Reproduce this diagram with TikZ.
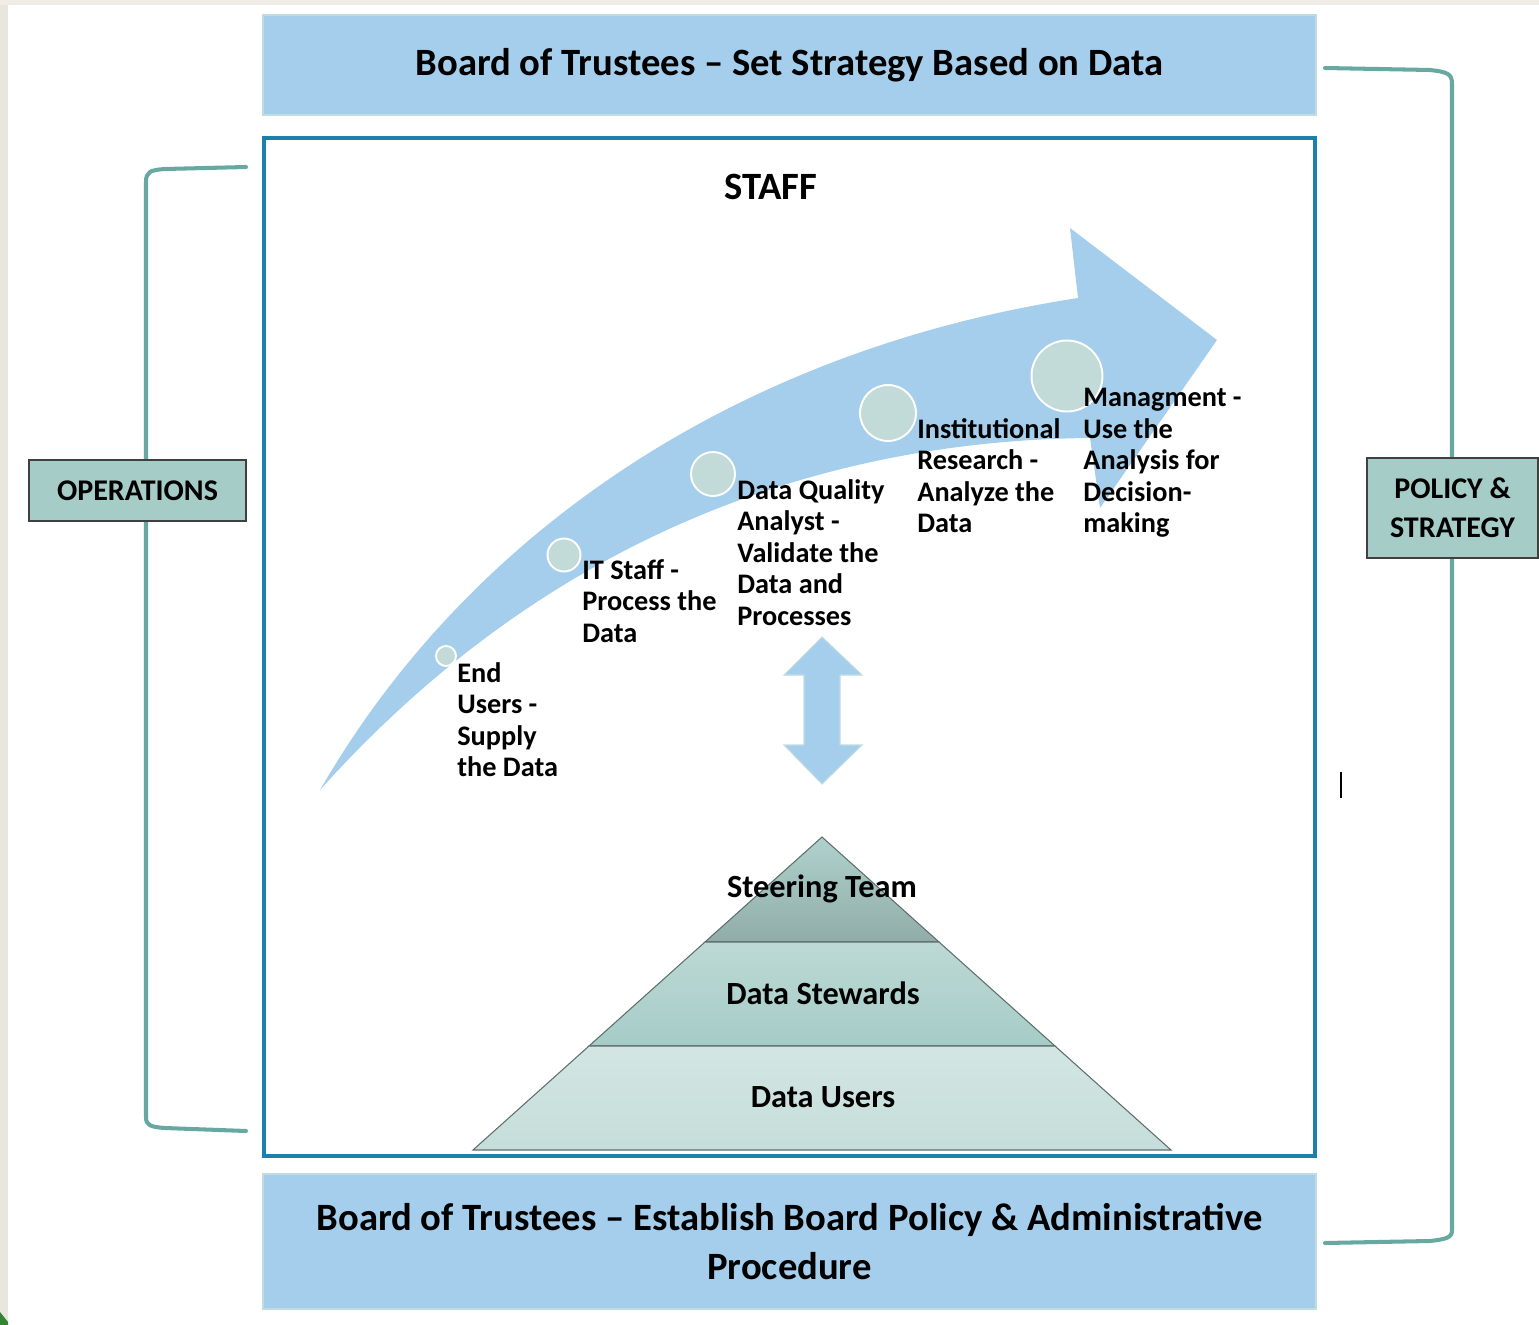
\documentclass[tikz,border=0pt]{standalone}
\usepackage{fontspec}
\setmainfont{Carlito}
\definecolor{arrowblue}{HTML}{A4CEEC}
\definecolor{boxedge}{HTML}{BFDCDF}
\definecolor{framecol}{HTML}{1C80AB}
\definecolor{bracketcol}{HTML}{67A9A1}
\definecolor{tealbox}{HTML}{A6CCC7}
\definecolor{dotfill}{HTML}{C2DBD8}
\definecolor{pyredge}{HTML}{5E6E6C}
\definecolor{beige}{HTML}{E9E6DD}
\tikzset{
  bluebox/.style={draw=boxedge, line width=1.1pt, fill=arrowblue, inner sep=0pt, align=center},
  sidebox/.style={draw=black!75, line width=1.1pt, fill=tealbox, inner sep=0pt, align=center,
    font=\bfseries\fontsize{17.1}{22}\selectfont},
  titlefont/.style={font=\bfseries\fontsize{22}{27.8}\selectfont},
  stage/.style={anchor=north west, inner sep=0pt, align=left,
    font=\bfseries\fontsize{16.1}{17.9}\selectfont},
  dot/.style={circle, draw=white, line width=1.1pt, fill=dotfill, inner sep=0pt},
  bracket/.style={draw=bracketcol, line width=2.3pt, line cap=round},
  pyrtext/.style={inner sep=0pt, font=\bfseries\fontsize{18.4}{22}\selectfont},
  pyr/.style={draw=pyredge, line width=0.6pt}
}
\begin{document}
\begin{tikzpicture}[x=0.02cm, y=-0.02cm]
\useasboundingbox (0,0) rectangle (1539,1325);
% page edges
\fill[beige] (0,0) rectangle (8,1325);
\fill[beige!70!white] (0,0) rectangle (1539,5);
\fill[green!40!black!80] (0,1312) -- (8,1322) -- (8,1325) -- (0,1325) -- cycle;

% brackets
\draw[bracket] (246,167) -- (165,169) .. controls (150,170) and (146,172) .. (146,182)
  -- (146,1117) .. controls (146,1125) and (150,1127) .. (165,1128) -- (246,1131);
\draw[bracket] (1325,68) -- (1430,70) .. controls (1448,72) and (1452,74) .. (1452,84)
  -- (1452,1230) .. controls (1452,1237) and (1448,1239) .. (1430,1241) -- (1325,1243);

% side boxes
\node[sidebox, minimum width=4.34cm, minimum height=1.22cm] (ops) at (137.5,490.5) {OPERATIONS};
\node[sidebox, minimum width=3.42cm, minimum height=2.0cm] (pol) at (1452.5,508) {POLICY \&\\STRATEGY};

% board boxes
\node[bluebox, titlefont, minimum width=21.06cm, minimum height=2.0cm] (top) at (789.5,65)
  {Board of Trustees -- Set Strategy Based on Data};
\node[bluebox, titlefont, minimum width=21.06cm, minimum height=2.7cm] (bottom) at (789.5,1241.5)
  {Board of Trustees -- Establish Board Policy \& Administrative\\Procedure};

% staff frame
\draw[framecol, line width=2.3pt] (264,138) rectangle (1315,1156);
\node[titlefont, inner sep=0pt] (staff) at (771,187) {STAFF};

% big curved arrow
\fill[arrowblue] (320,790) .. controls (470,530) and (740,350) .. (1078,298)
  -- (1070,228) -- (1217,340) -- (1100,508) -- (1090,438)
  .. controls (880,440) and (580,500) .. (320,790) -- cycle;

% dots
\node[dot, minimum size=0.4cm] (c1) at (446,656) {};
\node[dot, minimum size=0.66cm] (c2) at (564,555) {};
\node[dot, minimum size=0.88cm] (c3) at (713,474) {};
\node[dot, minimum size=1.12cm] (c4) at (888,413) {};
\node[dot, minimum size=1.42cm] (c5) at (1067,376) {};

% stage labels
\node[stage] (l1) at (457,662) {End\\Users -\\Supply\\the Data};
\node[stage] (l2) at (582,559) {IT Staff -\\Process the\\Data};
\node[stage] (l3) at (737,479) {Data Quality\\Analyst -\\Validate the\\Data and\\Processes};
\node[stage] (l4) at (917,418) {Institutional\\Research -\\Analyze the\\Data};
\node[stage] (l5) at (1083,388) {Managment -\\Use the\\Analysis for\\Decision-\\making};

% double arrow
\draw[fill=arrowblue, draw=boxedge, line width=0.6pt]
  (822,637) -- (862,675) -- (840,675) -- (840,745) -- (862,745) -- (822,784)
  -- (784,745) -- (804,745) -- (804,675) -- (784,675) -- cycle;

% pyramid
\draw[pyr, top color=tealbox!90!white, bottom color=tealbox!80!black!90]
  (822,837) -- (939,942) -- (705,942) -- cycle;
\draw[pyr, top color=tealbox!75!white, bottom color=tealbox]
  (705,942) -- (939,942) -- (1055,1046) -- (589,1046) -- cycle;
\draw[pyr, top color=tealbox!50!white, bottom color=tealbox!65!white]
  (589,1046) -- (1055,1046) -- (1171,1150) -- (473,1150) -- cycle;
\node[pyrtext] (p1) at (822,889) {Steering Team};
\node[pyrtext] (p2) at (823,993) {Data Stewards};
\node[pyrtext] (p3) at (823,1097) {Data Users};

% stray cursor mark
\draw[black, line width=1.1pt] (1341,772) -- (1341,798);
\end{tikzpicture}
\end{document}
